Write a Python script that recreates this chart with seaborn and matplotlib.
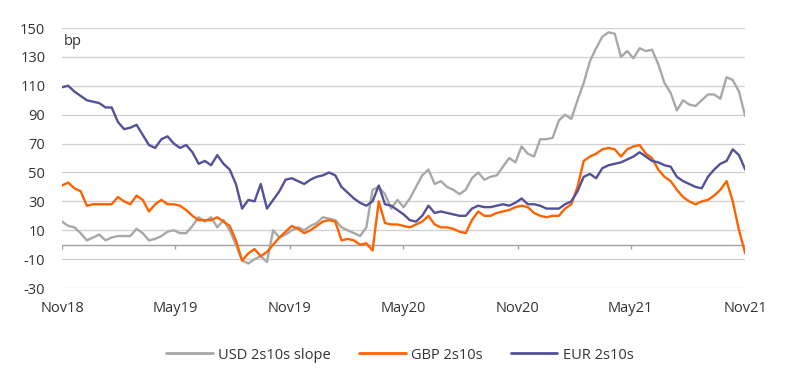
import numpy as np
import pandas as pd
import seaborn as sns
import matplotlib.pyplot as plt

# Dates: roughly every 10 days, Nov 2018 to Nov 2021
dates = pd.date_range("2018-11-01", "2021-11-01", periods=111)

usd = [16, 13, 12, 8, 3, 5, 7, 3, 5, 6,
       6, 6, 11, 8, 3, 4, 6, 9, 10, 8,
       8, 13, 19, 16, 19, 12, 17, 10, 0, -11,
       -13, -10, -8, -12, 10, 5, 7, 10, 12, 10,
       13, 15, 19, 18, 17, 12, 10, 8, 6, 12,
       38, 40, 35, 25, 31, 26, 32, 40, 48, 52,
       42, 44, 40, 38, 35, 38, 46, 50, 45, 47,
       48, 54, 60, 57, 68, 63, 61, 73, 73, 74,
       86, 90, 87, 100, 112, 127, 136, 144, 147, 146,
       130, 134, 129, 136, 134, 135, 125, 112, 105, 93,
       100, 97, 96, 100, 104, 104, 101, 116, 114, 106,
       89]

gbp = [41, 43, 39, 37, 27, 28, 28, 28, 28, 33,
       30, 28, 34, 31, 23, 28, 31, 28, 28, 27,
       24, 20, 17, 17, 17, 19, 16, 13, 3, -11,
       -6, -3, -8, -5, 0, 5, 9, 13, 11, 8,
       10, 13, 16, 17, 16, 3, 4, 3, 0, 1,
       -4, 30, 15, 14, 14, 13, 12, 14, 16, 20,
       14, 12, 12, 11, 9, 8, 17, 23, 20, 20,
       22, 23, 24, 26, 27, 26, 22, 20, 19, 20,
       20, 25, 28, 40, 58, 61, 63, 66, 67, 66,
       61, 66, 68, 69, 63, 60, 52, 47, 44, 38,
       33, 30, 28, 30, 31, 34, 38, 44, 30, 10,
       -6]

eur = [109, 110, 106, 103, 100, 99, 98, 95, 95, 85,
       80, 81, 83, 76, 69, 67, 73, 75, 70, 67,
       69, 64, 56, 58, 55, 62, 56, 52, 42, 25,
       31, 30, 42, 25, 31, 37, 45, 46, 44, 42,
       45, 47, 48, 50, 48, 40, 36, 32, 29, 27,
       30, 41, 28, 27, 24, 21, 17, 16, 20, 27,
       22, 23, 22, 21, 20, 20, 25, 27, 26, 26,
       27, 28, 27, 29, 32, 28, 28, 27, 25, 25,
       25, 28, 30, 37, 47, 49, 46, 53, 55, 56,
       57, 59, 61, 64, 61, 58, 57, 55, 54, 47,
       44, 42, 40, 39, 47, 52, 56, 58, 66, 62,
       52]

series_names = ["USD 2s10s slope", "GBP 2s10s", "EUR 2s10s"]
colors = ["#A8A8A8", "#FF6200", "#525199"]
tick_dates = pd.to_datetime(["2018-11-01", "2019-05-01", "2019-11-01", "2020-05-01",
                             "2020-11-01", "2021-05-01", "2021-11-01"])
tick_labels = ["Nov18", "May19", "Nov19", "May20", "Nov20", "May21", "Nov21"]
y_ticks = list(range(-30, 151, 20))

df = pd.DataFrame({"date": dates, "USD 2s10s slope": usd, "GBP 2s10s": gbp, "EUR 2s10s": eur})
long = df.melt(id_vars="date", var_name="series", value_name="bp")

sns.set_style("white")
plt.rcParams["font.family"] = ["Open Sans", "DejaVu Sans"]
text_col = "#333333"

fig = plt.figure(figsize=(8, 3.81), dpi=100)
ax = fig.add_axes([0.0775, 0.244, 0.854, 0.6825])

sns.lineplot(data=long, x="date", y="bp", hue="series", hue_order=series_names,
             palette=colors, linewidth=1.7, ax=ax, legend=False)

ax.set_ylim(-30, 150)
ax.set_xlim(tick_dates[0], tick_dates[-1])
ax.set_yticks(y_ticks)
ax.set_yticklabels([str(v) for v in y_ticks])
for v in y_ticks:
    ax.axhline(v, color="#CFCFCF", linewidth=0.9, zorder=0)
ax.axhline(0, color="#A0A0A0", linewidth=1.0, zorder=1)
ax.vlines(tick_dates, -3, 0, color="#A0A0A0", linewidth=1.0)

ax.set_xticks(tick_dates)
ax.set_xticklabels(tick_labels)
ax.tick_params(axis="both", length=0, labelsize=10.5, colors=text_col)
ax.tick_params(axis="y", pad=12)
ax.tick_params(axis="x", pad=9)
for s in ax.spines.values():
    s.set_visible(False)
ax.set_xlabel("")
ax.set_ylabel("")

ax.text(0.003, 0.947, "bp", transform=ax.transAxes, fontsize=10.5, color=text_col,
        va="center", ha="left")

handles = [plt.Line2D([], [], color=c, linewidth=2) for c in colors]
fig.legend(handles, series_names, loc="center", bbox_to_anchor=(0.5, 0.068), ncol=3,
           frameon=False, fontsize=10.5, handlelength=3.2, handletextpad=0.4,
           columnspacing=1.9, labelcolor=text_col)

fig.savefig("out.png", dpi=100)
